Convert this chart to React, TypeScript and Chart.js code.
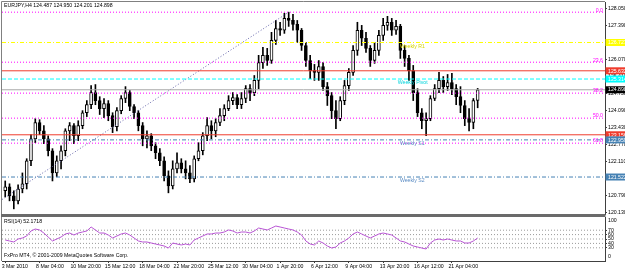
import { useEffect, useRef } from 'react';
import { Chart, registerables } from 'chart.js';

Chart.register(...registerables);

// ---------------- data ----------------
const symbolTitle = 'EURJPY,H4 124.487 124.950 124.201 124.898';
const rsiTitle = 'RSI(14) 52.1718';
const copyright = 'FxPro MT4, © 2001-2009 MetaQuotes Software Corp.';

const openP = [
  120.99, 121.14, 120.79, 120.60, 121.06, 121.26, 122.15, 123.00, 123.63, 123.31,
  123.00, 122.54, 121.68, 122.15, 122.54, 123.31, 123.51, 123.12, 123.51, 124.01,
  124.32, 124.79, 124.48, 124.17, 124.36, 123.90, 123.47, 124.09, 124.56, 124.79,
  124.25, 124.01, 123.51, 123.00, 123.12, 122.73, 122.46, 122.15, 121.57, 121.18,
  121.84, 122.07, 121.84, 121.68, 121.45, 122.23, 122.54, 123.12, 123.51, 123.31,
  123.63, 123.90, 124.17, 124.48, 124.60, 124.32, 124.56, 124.94, 124.79, 125.26,
  125.95, 126.23, 126.03, 126.81, 127.27, 127.20, 127.66, 127.58, 127.43, 127.20,
  126.61, 126.03, 125.64, 125.57, 125.80, 125.02, 124.67, 124.09, 123.78, 124.48,
  125.06, 125.57, 126.42, 127.20, 126.89, 126.50, 126.03, 126.42, 127.00, 127.39,
  127.51, 127.20, 127.35, 126.42, 126.11, 125.64, 124.79, 124.01, 123.70, 123.78,
  124.56, 124.94, 125.26, 125.02, 125.18, 124.94, 124.63, 124.29, 123.78, 123.63,
  124.487,
];
const highP = [
  121.37, 121.26, 120.99, 121.22, 121.68, 122.23, 123.16, 123.78, 123.74, 123.51,
  123.12, 122.62, 122.34, 122.73, 123.39, 123.63, 123.59, 123.70, 124.09, 124.48,
  125.06, 125.10, 124.63, 124.56, 124.48, 124.01, 124.21, 124.67, 125.02, 124.87,
  124.32, 124.09, 123.63, 123.31, 123.20, 122.85, 122.62, 122.30, 121.76, 122.15,
  122.46, 122.23, 122.15, 121.96, 122.34, 122.85, 123.24, 123.82, 123.70, 123.78,
  124.17, 124.32, 124.67, 124.79, 124.71, 124.79, 125.06, 125.10, 125.45, 126.23,
  126.54, 126.50, 127.12, 127.58, 127.51, 127.86, 127.90, 127.82, 127.58, 127.27,
  126.73, 126.23, 125.88, 126.03, 125.95, 125.18, 124.79, 124.48, 124.63, 125.26,
  125.72, 126.61, 127.51, 127.39, 127.12, 126.61, 126.73, 127.20, 127.66, 127.74,
  127.66, 127.58, 127.43, 126.61, 126.23, 125.84, 124.94, 124.17, 124.01, 124.67,
  125.10, 125.57, 125.41, 125.49, 125.53, 125.10, 125.02, 124.48, 124.17, 124.56,
  124.950,
];
const lowP = [
  120.75, 120.60, 120.29, 120.48, 120.91, 121.06, 121.96, 122.85, 123.16, 122.81,
  122.34, 121.37, 121.53, 121.84, 122.34, 122.93, 122.81, 122.93, 123.39, 123.86,
  124.17, 124.32, 123.94, 123.82, 123.70, 123.24, 123.31, 123.97, 124.40, 124.09,
  123.78, 123.31, 122.73, 122.65, 122.54, 122.23, 121.96, 121.37, 120.91, 121.06,
  121.68, 121.68, 121.45, 121.30, 121.33, 122.15, 122.38, 122.93, 123.00, 123.08,
  123.51, 123.70, 124.09, 124.32, 124.17, 124.17, 124.40, 124.48, 124.67, 124.94,
  125.72, 125.84, 125.92, 126.65, 127.00, 127.08, 127.35, 127.20, 126.73, 126.42,
  125.80, 125.33, 125.26, 125.26, 124.87, 124.29, 123.78, 123.39, 123.70, 124.32,
  124.87, 125.45, 126.23, 126.61, 126.34, 125.80, 125.92, 126.23, 126.81, 127.20,
  127.00, 127.04, 126.11, 125.80, 125.26, 124.48, 123.86, 123.39, 123.12, 123.70,
  124.48, 124.79, 124.79, 124.87, 124.71, 124.32, 124.01, 123.51, 123.31, 123.39,
  124.201,
];
const closeP = [
  121.14, 120.79, 120.60, 121.06, 121.26, 122.15, 123.00, 123.63, 123.31, 123.00,
  122.54, 121.68, 122.15, 122.54, 123.31, 123.51, 123.12, 123.51, 124.01, 124.32,
  124.79, 124.48, 124.17, 124.36, 123.90, 123.47, 124.09, 124.56, 124.79, 124.25,
  124.01, 123.51, 123.00, 123.12, 122.73, 122.46, 122.15, 121.57, 121.18, 121.84,
  122.07, 121.84, 121.68, 121.45, 122.23, 122.54, 123.12, 123.51, 123.31, 123.63,
  123.90, 124.17, 124.48, 124.60, 124.32, 124.56, 124.94, 124.79, 125.26, 125.95,
  126.23, 126.03, 126.81, 127.27, 127.20, 127.66, 127.58, 127.43, 127.20, 126.61,
  126.03, 125.64, 125.57, 125.80, 125.02, 124.67, 124.09, 123.78, 124.48, 125.06,
  125.57, 126.42, 127.20, 126.89, 126.50, 126.03, 126.42, 127.00, 127.39, 127.51,
  127.20, 127.35, 126.42, 126.11, 125.64, 124.79, 124.01, 123.70, 123.78, 124.56,
  124.94, 125.26, 125.02, 125.18, 124.94, 124.63, 124.29, 123.78, 123.63, 124.48,
  124.898,
];
const rsiValues = [
  47.7, 45.5, 43.2, 50.0, 52.3, 56.8, 68.2, 72.7, 70.5, 63.6,
  54.5, 45.5, 50.0, 54.5, 61.4, 63.6, 59.1, 63.6, 65.9, 68.2,
  77.3, 70.5, 63.6, 63.6, 59.1, 52.3, 56.8, 61.4, 63.6, 59.1,
  52.3, 45.5, 43.2, 43.2, 40.9, 38.6, 36.4, 34.1, 29.5, 40.9,
  38.6, 36.4, 38.6, 36.4, 47.7, 52.3, 56.8, 61.4, 61.4, 63.6,
  63.6, 65.9, 70.5, 68.2, 63.6, 65.9, 65.9, 63.6, 68.2, 75.0,
  72.7, 70.5, 75.0, 79.5, 77.3, 75.0, 72.7, 70.5, 65.9, 59.1,
  45.5, 38.6, 36.4, 45.5, 40.9, 34.1, 29.5, 31.8, 40.9, 45.5,
  52.3, 61.4, 65.9, 61.4, 56.8, 52.3, 56.8, 61.4, 63.6, 61.4,
  59.1, 52.3, 45.5, 43.2, 38.6, 34.1, 31.8, 29.5, 27.3, 40.9,
  47.7, 50.0, 47.7, 50.0, 47.7, 45.5, 45.5, 40.9, 40.9, 45.5,
  52.17,
];

const timeTickBars = [0, 8, 16, 24, 32, 40, 48, 56, 64, 72, 80, 88, 96, 104];
const timeTickLabels = [
  '3 Mar 2010', '8 Mar 04:00', '10 Mar 20:00', '15 Mar 12:00', '18 Mar 04:00',
  '22 Mar 20:00', '25 Mar 12:00', '30 Mar 04:00', '1 Apr 20:00', '6 Apr 12:00',
  '9 Apr 04:00', '13 Apr 20:00', '16 Apr 12:00', '21 Apr 04:00',
];
const priceTicks = [128.05, 127.39, 126.73, 126.07, 125.41, 124.75, 124.09, 123.43, 122.77, 122.11, 121.45, 120.79, 120.13];

const fibLevels = [127.9, 125.965, 124.768, 123.8, 122.832];
const fibNames = ['0.0', '23.6', '38.2', '50.0', '61.8'];
const fibTrendBars = [-9.5, 66];
const fibTrendPrices = [119.7, 127.9];

const pivotLevels = [126.727, 125.314, 122.959, 121.522];
const pivotNames = ['Weekly R1', 'Weekly Pivot', 'Weekly S1', 'Weekly S2'];
const pivotTextBars = [91.9, 91.4, 91.9, 91.9];
const redLevels = [125.632, 123.156];
const bidPrice = 124.898;

const rsiLevels = [30, 40, 50, 60, 70];
const rsiBounds = [0, 100];

// ---------------- styles ----------------
const FONT = "'Liberation Sans', Arial, sans-serif";
const FS = 5.2;
const X_MIN = -0.75;
const X_MAX = 139.65;
const COL = {
  fib: '#ff00ff',
  r1: '#ffff00',
  r1Text: '#d6d600',
  pivot: '#00ffff',
  pivotText: '#00d4dc',
  support: '#4682b4',
  supportText: '#5b8cc4',
  red: '#f03c2d',
  bid: '#a8a8a8',
  trend: '#6464aa',
  rsi: '#b854d4',
  level: '#9a9a9a',
  frame: '#808080',
  axis: '#404040',
};

const hline = (v: number, color: string, dash: number[]) => ({
  type: 'line' as const,
  data: [{ x: X_MIN, y: v }, { x: X_MAX, y: v }],
  borderColor: color,
  borderWidth: 1,
  borderDash: dash,
  pointRadius: 0,
  fill: false,
  tension: 0,
});

const mainPlugin = {
  id: 'mt4main',
  afterDraw(chart: any) {
    const { ctx, chartArea: a, scales } = chart;
    const x = scales.x;
    const y = scales.y;
    ctx.save();
    ctx.strokeStyle = COL.frame;
    ctx.lineWidth = 1;
    ctx.beginPath();
    ctx.moveTo(1.5, 1.5);
    ctx.lineTo(a.right, 1.5);
    ctx.moveTo(1.5, 1.5);
    ctx.lineTo(1.5, 217);
    ctx.stroke();
    ctx.fillStyle = '#6a6a6a';
    ctx.fillRect(1, a.bottom, a.right - 0.5, 3);

    ctx.font = `${FS}px ${FONT}`;
    ctx.fillStyle = COL.fib;
    ctx.textAlign = 'right';
    ctx.textBaseline = 'bottom';
    fibLevels.forEach((v, i) => ctx.fillText(fibNames[i], a.right - 2, y.getPixelForValue(v) + 0.5));

    const pivotColors = [COL.r1Text, COL.pivotText, COL.supportText, COL.supportText];
    ctx.textAlign = 'left';
    ctx.textBaseline = 'top';
    pivotLevels.forEach((v, i) => {
      ctx.fillStyle = pivotColors[i];
      ctx.fillText(pivotNames[i], x.getPixelForValue(pivotTextBars[i]), y.getPixelForValue(v) + 1);
    });

    ctx.fillStyle = '#000';
    ctx.textBaseline = 'middle';
    ctx.fillText(symbolTitle, 4, 5.7);

    const boxes: [number, string][] = [
      [pivotLevels[0], COL.r1],
      [redLevels[0], COL.red],
      [pivotLevels[1], COL.pivot],
      [bidPrice, '#000000'],
      [redLevels[1], COL.red],
      [pivotLevels[2], COL.support],
      [pivotLevels[3], COL.support],
    ];
    boxes.forEach(([v, c]) => {
      const py = y.getPixelForValue(v);
      ctx.fillStyle = c;
      ctx.fillRect(a.right + 0.5, py - 3.5, 20, 7);
      ctx.fillStyle = '#ffffff';
      ctx.textAlign = 'left';
      ctx.textBaseline = 'middle';
      ctx.fillText(v.toFixed(3), a.right + 3, py + 0.3);
    });
    ctx.restore();
  },
};

const rsiPlugin = {
  id: 'mt4rsi',
  afterDraw(chart: any) {
    const { ctx, chartArea: a, scales } = chart;
    const y = scales.y;
    ctx.save();
    ctx.strokeStyle = COL.frame;
    ctx.lineWidth = 1;
    ctx.beginPath();
    ctx.moveTo(1.5, 0);
    ctx.lineTo(1.5, a.bottom);
    ctx.stroke();
    ctx.font = `${FS}px ${FONT}`;
    ctx.fillStyle = '#000';
    ctx.textAlign = 'left';
    ctx.textBaseline = 'middle';
    ctx.fillText(rsiTitle, 4, 4.6);
    ctx.fillText(copyright, 4, 39);
    ctx.textBaseline = 'top';
    ctx.fillText(String(rsiBounds[1]), a.right + 3, y.getPixelForValue(rsiBounds[1]) + 0.5);
    ctx.textBaseline = 'bottom';
    ctx.fillText(String(rsiBounds[0]), a.right + 3, y.getPixelForValue(rsiBounds[0]) - 1.5);
    ctx.restore();
  },
};

export default function App() {
  const mainRef = useRef<HTMLCanvasElement>(null);
  const rsiRef = useRef<HTMLCanvasElement>(null);

  useEffect(() => {
    const font = { family: FONT, size: FS };
    const mainDatasets: any[] = [
      ...fibLevels.map((v) => hline(v, COL.fib, [1, 2])),
      hline(pivotLevels[0], COL.r1, [4, 2, 1, 2]),
      hline(pivotLevels[1], COL.pivot, [4, 2]),
      hline(pivotLevels[2], COL.support, [4, 2, 1, 2]),
      hline(pivotLevels[3], COL.support, [4, 2, 1, 2]),
      ...redLevels.map((v) => hline(v, COL.red, [])),
      hline(bidPrice, COL.bid, []),
      {
        type: 'line',
        data: fibTrendBars.map((b, i) => ({ x: b, y: fibTrendPrices[i] })),
        borderColor: COL.trend,
        borderWidth: 1,
        borderDash: [1, 2],
        pointRadius: 0,
        fill: false,
      },
      {
        type: 'bar',
        data: openP.map((o, i) => ({ x: i, y: [o, closeP[i]] })),
        backgroundColor: (c: any) =>
          c.dataIndex !== undefined && closeP[c.dataIndex] >= openP[c.dataIndex] ? '#ffffff' : '#000000',
        borderColor: '#000000',
        borderWidth: 1,
        borderSkipped: false,
        barThickness: 3,
        grouped: false,
      },
      {
        type: 'bar',
        data: lowP.map((l, i) => ({ x: i, y: [l, highP[i]] })),
        backgroundColor: '#000000',
        borderWidth: 0,
        barThickness: 1,
        grouped: false,
      },
    ];

    const main = new Chart(mainRef.current!, {
      type: 'bar',
      data: { datasets: mainDatasets },
      plugins: [mainPlugin],
      options: {
        animation: false,
        responsive: false,
        devicePixelRatio: 1,
        events: [],
        layout: { padding: { left: 2, top: 2, right: 0, bottom: 3 } },
        plugins: { legend: { display: false }, tooltip: { enabled: false } },
        scales: {
          x: { type: 'linear', min: X_MIN, max: X_MAX, offset: false, display: false },
          y: {
            type: 'linear',
            position: 'right',
            min: 120.091,
            max: 128.294,
            afterBuildTicks: (s: any) => {
              s.ticks = priceTicks.map((v) => ({ value: v }));
            },
            afterFit: (s: any) => {
              s.width = 20;
              s.paddingTop = 0;
              s.paddingBottom = 0;
            },
            ticks: {
              font,
              color: '#000',
              padding: 1,
              autoSkip: false,
              callback: (v: any) => Number(v).toFixed(3),
            },
            grid: { drawOnChartArea: false, drawTicks: true, tickLength: 2, color: COL.axis },
            border: { display: true, color: COL.axis, width: 1 },
          },
        },
      } as any,
    });

    const rsiDatasets: any[] = [
      {
        type: 'line',
        data: rsiValues.map((v, i) => ({ x: i, y: v })),
        borderColor: COL.rsi,
        borderWidth: 1,
        pointRadius: 0,
        fill: false,
        tension: 0,
      },
      ...rsiLevels.map((v) => hline(v, COL.level, [1, 2])),
    ];

    const rsi = new Chart(rsiRef.current!, {
      type: 'line',
      data: { datasets: rsiDatasets },
      plugins: [rsiPlugin],
      options: {
        animation: false,
        responsive: false,
        devicePixelRatio: 1,
        events: [],
        layout: { padding: { left: 2, top: 0, right: 0, bottom: 0 } },
        plugins: { legend: { display: false }, tooltip: { enabled: false } },
        scales: {
          x: {
            type: 'linear',
            min: X_MIN,
            max: X_MAX,
            offset: false,
            afterBuildTicks: (s: any) => {
              s.ticks = timeTickBars.map((v) => ({ value: v }));
            },
            afterFit: (s: any) => {
              s.height = 9;
              s.paddingLeft = 0;
              s.paddingRight = 0;
            },
            ticks: {
              font,
              color: '#000',
              padding: 0,
              align: 'start',
              labelOffset: -3.5,
              maxRotation: 0,
              minRotation: 0,
              autoSkip: false,
              callback: (_v: any, i: number) => timeTickLabels[i] ?? '',
            },
            grid: { drawOnChartArea: false, drawTicks: true, tickLength: 2, color: COL.axis },
            border: { display: true, color: COL.axis, width: 1 },
          },
          y: {
            type: 'linear',
            position: 'right',
            min: rsiBounds[0],
            max: rsiBounds[1],
            afterBuildTicks: (s: any) => {
              s.ticks = rsiLevels.map((v) => ({ value: v }));
            },
            afterFit: (s: any) => {
              s.width = 20;
              s.paddingTop = 0;
              s.paddingBottom = 0;
            },
            ticks: { font, color: '#000', padding: 1, autoSkip: false },
            grid: { drawOnChartArea: false, drawTicks: true, tickLength: 2, color: COL.axis },
            border: { display: true, color: COL.axis, width: 1 },
          },
        },
      } as any,
    });

    return () => {
      main.destroy();
      rsi.destroy();
    };
  }, []);

  return (
    <div style={{ position: 'fixed', left: 0, top: 0, width: 625, height: 270, background: '#ffffff', overflow: 'hidden' }}>
      <canvas ref={mainRef} width={625} height={217} style={{ position: 'absolute', left: 0, top: 0, width: 625, height: 217, display: 'block' }} />
      <canvas ref={rsiRef} width={625} height={53} style={{ position: 'absolute', left: 0, top: 217, width: 625, height: 53, display: 'block' }} />
    </div>
  );
}
